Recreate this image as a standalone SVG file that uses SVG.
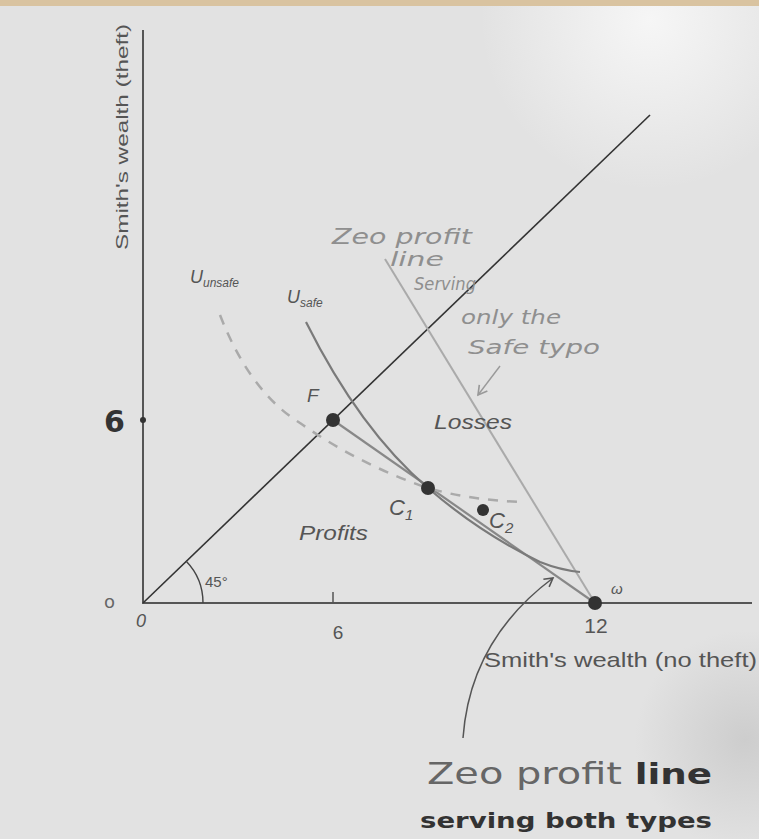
<svg xmlns="http://www.w3.org/2000/svg" width="759" height="839" viewBox="0 0 759 839">
<defs>
<radialGradient id="glow" cx="650" cy="20" r="170" gradientUnits="userSpaceOnUse">
<stop offset="0" stop-color="#f6f6f6"/><stop offset="1" stop-color="#f6f6f6" stop-opacity="0"/>
</radialGradient>
<radialGradient id="shade" cx="745" cy="740" r="110" gradientUnits="userSpaceOnUse">
<stop offset="0" stop-color="#cdcdcd"/><stop offset="1" stop-color="#cdcdcd" stop-opacity="0"/>
</radialGradient>
<marker id="arr" viewBox="0 0 10 10" refX="8" refY="5" markerWidth="8" markerHeight="8" orient="auto">
<path d="M1,1 L8,5 L1,9" fill="none" stroke="#555" stroke-width="1.3"/>
</marker>
<marker id="arr2" viewBox="0 0 10 10" refX="8" refY="5" markerWidth="9" markerHeight="9" orient="auto">
<path d="M1,1 L8,5 L1,9" fill="none" stroke="#999" stroke-width="1.3"/>
</marker>
</defs>
<style>
.lbl{font-family:"Liberation Sans",Arial,sans-serif;fill:#555}
.it{font-style:italic}
.hand{font-family:"DejaVu Sans","Noto Sans",sans-serif}
.pt{fill:#333}
</style>
<rect x="0" y="0" width="759" height="839" fill="#e2e2e2"/>
<rect x="0" y="0" width="759" height="839" fill="url(#glow)"/>
<rect x="0" y="0" width="759" height="839" fill="url(#shade)"/>
<rect x="0" y="0" width="759" height="6" fill="#d9c3a0"/>
<g id="connectors" fill="none">
<line id="y-axis" x1="143" y1="30" x2="143" y2="604" stroke="#555" stroke-width="2"/>
<line id="x-axis" x1="142" y1="603" x2="752" y2="603" stroke="#555" stroke-width="2"/>
<line id="line45" x1="143" y1="603" x2="650" y2="115" stroke="#333" stroke-width="1.6"/>
<path id="arc45" d="M203,603 A60,60 0 0 0 186,561" stroke="#444" stroke-width="1.4"/>
<line id="tick6" x1="333" y1="592" x2="333" y2="603" stroke="#555" stroke-width="1.5"/>
<line id="zp-safe" x1="385" y1="259" x2="595" y2="603" stroke="#aaa" stroke-width="2"/>
<line id="zp-both" x1="333" y1="420" x2="595" y2="603" stroke="#888" stroke-width="2.2"/>
<path id="u-safe" d="M306,322 Q360,430 428,488 Q480,533 540,562 Q560,570 580,572" stroke="#7a7a7a" stroke-width="2.2"/>
<path id="u-unsafe" d="M220,315 Q250,392 300,423 Q360,465 428,488 Q470,500 520,502" stroke="#aaa" stroke-width="2.5" stroke-dasharray="10 9"/>
<path id="arrow-both" d="M463,738 Q470,640 553,578" stroke="#555" stroke-width="1.5" marker-end="url(#arr)"/>
<path id="arrow-safe" d="M500,366 L478,395" stroke="#999" stroke-width="1.4" marker-end="url(#arr2)"/>
</g>
<g id="point-F"><circle class="pt" cx="333" cy="420" r="7"/><text class="lbl it" x="307" y="402" font-size="19">F</text></g>
<g id="point-C1"><circle class="pt" cx="428" cy="488" r="7"/><text class="lbl it" x="389" y="515" font-size="22">C<tspan font-size="15" dy="5">1</tspan></text></g>
<g id="point-C2"><circle class="pt" cx="483" cy="510" r="6"/><text class="lbl it" x="489" y="528" font-size="22">C<tspan font-size="15" dy="5">2</tspan></text></g>
<g id="point-omega"><circle class="pt" cx="595" cy="603" r="7"/><text class="lbl it" x="611" y="594" font-size="15">ω</text></g>
<g id="tick-y6"><circle class="pt" cx="143" cy="420" r="3"/><text class="hand" x="104" y="432" font-size="30" fill="#333" font-weight="bold">6</text></g>
<g id="labels">
<text class="lbl" x="128" y="137" font-size="17" text-anchor="middle" textLength="226" lengthAdjust="spacingAndGlyphs" transform="rotate(-90 128 137)">Smith's wealth (theft)</text>
<text class="lbl" x="484" y="667" font-size="21" textLength="273" lengthAdjust="spacingAndGlyphs">Smith's wealth (no theft)</text>
<text class="lbl" x="338" y="639" font-size="19" text-anchor="middle">6</text>
<text class="lbl" x="596" y="633" font-size="21" text-anchor="middle">12</text>
<text class="lbl it" x="136" y="627" font-size="18">0</text>
<text class="hand" x="104" y="608" font-size="18" fill="#666">o</text>
<text class="lbl" x="205" y="587" font-size="15">45°</text>
<text class="lbl it" x="190" y="283" font-size="18">U<tspan font-size="12" dy="4">unsafe</tspan></text>
<text class="lbl it" x="287" y="303" font-size="18">U<tspan font-size="12" dy="4">safe</tspan></text>
<text class="lbl it" x="434" y="429" font-size="20" textLength="78" lengthAdjust="spacingAndGlyphs">Losses</text>
<text class="lbl it" x="299" y="540" font-size="20" textLength="69" lengthAdjust="spacingAndGlyphs">Profits</text>
</g>
<g id="note-safe" class="hand" fill="#8f8f8f" font-style="italic">
<text x="332" y="244" font-size="22" textLength="140" lengthAdjust="spacingAndGlyphs">Zeo profit</text>
<text x="390" y="266" font-size="19" textLength="54" lengthAdjust="spacingAndGlyphs">line</text>
<text x="414" y="290" font-size="18" textLength="62" lengthAdjust="spacingAndGlyphs">Serving</text>
<text x="461" y="324" font-size="19" textLength="100" lengthAdjust="spacingAndGlyphs">only the</text>
<text x="468" y="354" font-size="19" textLength="132" lengthAdjust="spacingAndGlyphs">Safe typo</text>
</g>
<g id="note-both" class="hand">
<text x="427" y="784" font-size="30" fill="#666" textLength="285" lengthAdjust="spacingAndGlyphs">Zeo profit <tspan fill="#333" font-weight="bold" font-size="28">line</tspan></text>
<text x="420" y="828" font-size="22" fill="#333" font-weight="bold" textLength="292" lengthAdjust="spacingAndGlyphs">serving both types</text>
</g>
</svg>
